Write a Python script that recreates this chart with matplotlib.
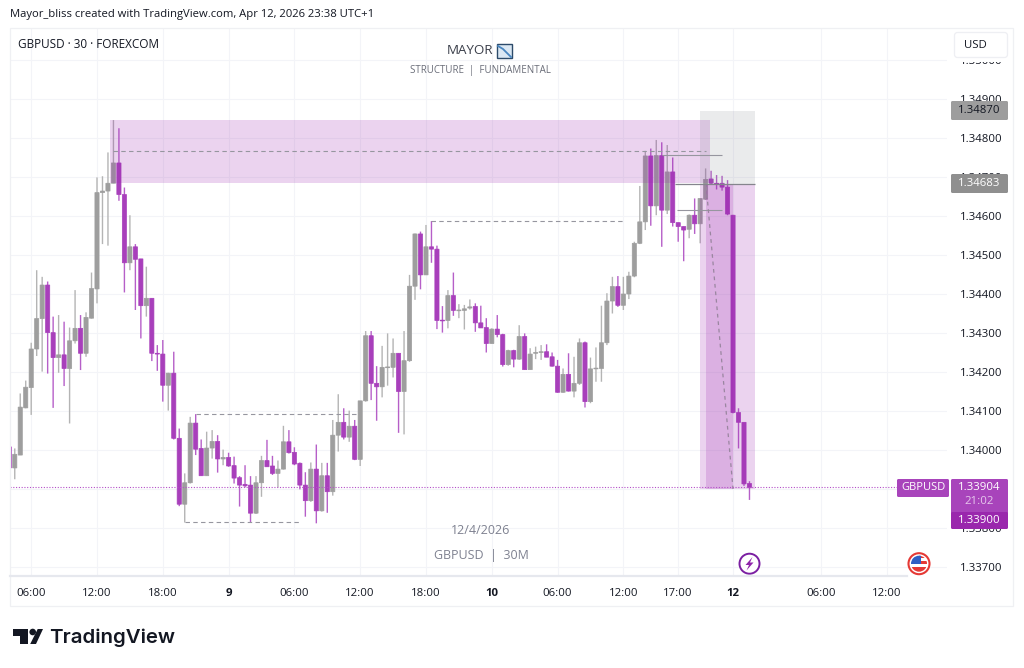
import numpy as np
import matplotlib
matplotlib.use("Agg")
import matplotlib.pyplot as plt
from matplotlib.patches import Rectangle, FancyBboxPatch, Circle, Polygon

plt.rcParams['font.family'] = ['Open Sans', 'DejaVu Sans']

opens = [1.34008,1.33954,1.33987,1.34108,1.34160,1.34259,1.34337,1.34423,1.34301,1.34237,
         1.34244,1.34209,1.34280,1.34312,1.34248,1.34338,1.34413,1.34660,1.34664,1.34684,
         1.34736,1.34655,1.34480,1.34521,1.34490,1.34370,1.34389,1.34248,1.34246,1.34166,
         1.34197,1.34030,1.33861,1.33916,1.34069,1.34004,1.33934,1.34005,1.34022,1.33977,
         1.33981,1.33960,1.33929,1.33912,1.33910,1.33838,1.33916,1.33973,1.33959,1.33940,
         1.33951,1.34021,1.33994,1.33966,1.33910,1.33870,1.33951,1.33844,1.33934,1.33893,
         1.34038,1.34071,1.34033,1.34061,1.33976,1.34126,1.34293,1.34171,1.34162,1.34211,
         1.34212,1.34248,1.34150,1.34229,1.34420,1.34554,1.34449,1.34521,1.34515,1.34333,
         1.34332,1.34396,1.34357,1.34358,1.34364,1.34368,1.34326,1.34314,1.34273,1.34310,
         1.34296,1.34219,1.34255,1.34233,1.34291,1.34206,1.34248,1.34250,1.34252,1.34239,
         1.34215,1.34148,1.34194,1.34151,1.34171,1.34275,1.34124,1.34208,1.34209,1.34275,
         1.34382,1.34419,1.34371,1.34400,1.34446,1.34530,1.34585,1.34754,1.34626,1.34755,
         1.34615,1.34713,1.34583,1.34573,1.34566,1.34602,1.34580,1.34643,1.34695,1.34684,
         1.34684,1.34674,1.34602,1.34096,1.34071,1.33914]
closes = [1.33954,1.33989,1.34110,1.34161,1.34259,1.34337,1.34423,1.34301,1.34237,1.34244,
          1.34209,1.34280,1.34312,1.34248,1.34340,1.34414,1.34660,1.34664,1.34684,1.34736,
          1.34655,1.34480,1.34521,1.34489,1.34370,1.34389,1.34248,1.34246,1.34166,1.34197,
          1.34030,1.33861,1.33916,1.34069,1.34002,1.33934,1.34005,1.34022,1.33977,1.33981,
          1.33959,1.33928,1.33910,1.33908,1.33838,1.33916,1.33973,1.33957,1.33940,1.33951,
          1.34021,1.33993,1.33964,1.33910,1.33870,1.33951,1.33844,1.33934,1.33893,1.34038,
          1.34071,1.34033,1.34061,1.33976,1.34126,1.34293,1.34171,1.34162,1.34212,1.34213,
          1.34248,1.34150,1.34229,1.34420,1.34554,1.34449,1.34521,1.34515,1.34332,1.34331,
          1.34396,1.34358,1.34359,1.34362,1.34367,1.34326,1.34313,1.34273,1.34310,1.34296,
          1.34219,1.34255,1.34233,1.34291,1.34206,1.34246,1.34250,1.34252,1.34238,1.34215,
          1.34148,1.34194,1.34151,1.34171,1.34275,1.34124,1.34208,1.34210,1.34275,1.34382,
          1.34419,1.34371,1.34400,1.34446,1.34530,1.34585,1.34754,1.34626,1.34755,1.34615,
          1.34713,1.34583,1.34573,1.34564,1.34602,1.34580,1.34645,1.34694,1.34684,1.34682,
          1.34674,1.34605,1.34096,1.34071,1.33913,1.33904]
highs = [1.34010,1.34004,1.34145,1.34178,1.34275,1.34461,1.34444,1.34432,1.34342,1.34346,
         1.34329,1.34314,1.34410,1.34346,1.34353,1.34455,1.34699,1.34702,1.34763,1.34846,
         1.34825,1.34673,1.34602,1.34528,1.34490,1.34470,1.34389,1.34269,1.34282,1.34198,
         1.34252,1.34055,1.33940,1.34085,1.34092,1.34027,1.34047,1.34051,1.34038,1.34001,
         1.33993,1.33983,1.33933,1.33961,1.33933,1.33933,1.33985,1.34026,1.33985,1.33973,
         1.34062,1.34051,1.34007,1.33968,1.33943,1.33968,1.34014,1.33967,1.33967,1.34077,
         1.34143,1.34107,1.34101,1.34077,1.34126,1.34305,1.34305,1.34215,1.34267,1.34299,
         1.34286,1.34248,1.34305,1.34449,1.34555,1.34560,1.34577,1.34587,1.34524,1.34369,
         1.34410,1.34455,1.34374,1.34372,1.34386,1.34376,1.34370,1.34338,1.34312,1.34346,
         1.34298,1.34257,1.34257,1.34320,1.34299,1.34261,1.34265,1.34269,1.34271,1.34250,
         1.34231,1.34209,1.34248,1.34239,1.34286,1.34278,1.34237,1.34263,1.34370,1.34402,
         1.34444,1.34446,1.34444,1.34457,1.34534,1.34677,1.34767,1.34773,1.34795,1.34789,
         1.34782,1.34750,1.34583,1.34573,1.34604,1.34645,1.34645,1.34722,1.34716,1.34705,
         1.34703,1.34692,1.34603,1.34107,1.34071,1.33920]
lows = [1.33954,1.33925,1.33987,1.34107,1.34090,1.34241,1.34201,1.34196,1.34108,1.34198,
        1.34164,1.34068,1.34273,1.34205,1.34239,1.34337,1.34376,1.34528,1.34524,1.34684,
        1.34639,1.34404,1.34461,1.34359,1.34286,1.34342,1.34228,1.34203,1.34124,1.34101,
        1.34027,1.33856,1.33814,1.33914,1.33987,1.33934,1.33934,1.33978,1.33942,1.33961,
        1.33957,1.33914,1.33855,1.33904,1.33814,1.33836,1.33880,1.33957,1.33936,1.33904,
        1.33950,1.33991,1.33961,1.33899,1.33829,1.33867,1.33812,1.33842,1.33839,1.33883,
        1.33996,1.34027,1.34021,1.33974,1.33959,1.34124,1.34128,1.34075,1.34135,1.34165,
        1.34186,1.34044,1.34040,1.34226,1.34385,1.34412,1.34449,1.34480,1.34310,1.34301,
        1.34312,1.34344,1.34338,1.34309,1.34360,1.34303,1.34313,1.34250,1.34273,1.34289,
        1.34214,1.34216,1.34212,1.34231,1.34206,1.34206,1.34233,1.34231,1.34238,1.34214,
        1.34147,1.34147,1.34150,1.34135,1.34167,1.34109,1.34120,1.34175,1.34175,1.34269,
        1.34350,1.34367,1.34359,1.34387,1.34443,1.34528,1.34564,1.34575,1.34602,1.34521,
        1.34605,1.34573,1.34534,1.34484,1.34543,1.34554,1.34530,1.34641,1.34682,1.34668,
        1.34665,1.34602,1.34094,1.34004,1.33908,1.33872]

time_ticks = [4,16,28,40,52,64,76,88,100,112,122,132,148,160]
time_labels = ['06:00','12:00','18:00','9','06:00','12:00','18:00','10','06:00','12:00','17:00','12','06:00','12:00']
bold_labels = ['9','10','12']
price_ticks = [1.33700,1.33800,1.33900,1.34000,1.34100,1.34200,1.34300,1.34400,1.34500,1.34600,1.34700,1.34800,1.34900,1.35000]

last_price = 1.33904
tp_price = 1.34870
entry_price = 1.34683
stop_price = 1.33900

supply_top = 1.34846
supply_bottom = 1.34685
liq_high = 1.34767
bos_mid = 1.34586
range_top = 1.34093
range_bottom = 1.33815

W, H = 1024, 668
PURPLE = '#a83fbb'
PURPLE_WICK = '#b65fc8'
GRAY = '#9e9e9e'
GRAY_WICK = '#b4b4b4'
GRID = '#f3f4f8'
TEXT = '#131722'
DASH = '#96969f'

# px to index / price, only used to line the axes up with the screenshot
def idx_at(px):
    return 16 + (px - 97) / 5.483

def price_at(py):
    return 1.349 - (py - 99) / 39000

fig = plt.figure(figsize=(W/100, H/100), dpi=100, facecolor='white')
ax = fig.add_axes([10/W, 1-576/H, (947-10)/W, (576-28)/H])
ax.set_xlim(idx_at(10), idx_at(947))
ax.set_ylim(price_at(576), price_at(28))
for s in ax.spines.values():
    s.set_visible(False)

ax.set_xticks(time_ticks)
ax.set_xticklabels(time_labels, fontsize=8.2, color=TEXT)
for t in ax.get_xticklabels():
    if t.get_text() in bold_labels:
        t.set_fontweight('bold')
ax.yaxis.tick_right()
ax.set_yticks(price_ticks)
ax.set_yticklabels(['%.5f' % p for p in price_ticks], fontsize=8.2, color=TEXT)
ax.tick_params(axis='x', length=0, pad=9)
ax.tick_params(axis='y', length=0, pad=9.5)
ax.grid(True, color=GRID, lw=0.8)
ax.set_axisbelow(True)

# candles, no snapping or the bodies come out in uneven widths
x = np.arange(len(opens))
o = np.array(opens)
c = np.array(closes)
up = c >= o
colors = [GRAY if u else PURPLE for u in up]
wick_colors = [GRAY_WICK if u else PURPLE_WICK for u in up]
wicks = ax.vlines(x, lows, highs, colors=wick_colors, lw=1.0, zorder=2)
wicks.set_snap(False)
bodies = ax.bar(x, np.abs(c-o), bottom=np.minimum(o, c), width=0.76, color=colors, edgecolor=colors, lw=0.5, zorder=3)
for b in bodies:
    b.set_snap(False)

# zones
ax.add_patch(Rectangle((idx_at(110), supply_bottom), idx_at(710)-idx_at(110), supply_top-supply_bottom,
                       fc='#9c27b0', alpha=0.2, lw=0, zorder=4))
ax.add_patch(Rectangle((126, entry_price), 10, tp_price-entry_price, fc='#787b86', alpha=0.15, lw=0, zorder=4))
ax.add_patch(Rectangle((126, stop_price), 10, entry_price-stop_price, fc='#9c27b0', alpha=0.2, lw=0, zorder=4))
ax.add_patch(Rectangle((127, stop_price), 5, entry_price-stop_price, fc='#9c27b0', alpha=0.2, lw=0, zorder=4))

# levels
ax.hlines(liq_high, 19, 127, colors=DASH, linestyles=(0, (4, 3)), lw=0.8, zorder=5)
ax.hlines(bos_mid, 77, 112, colors=DASH, linestyles=(0, (4, 3)), lw=0.8, zorder=5)
ax.hlines(range_top, 34, 63.6, colors=DASH, linestyles=(0, (4, 3)), lw=0.8, zorder=5)
ax.hlines(range_bottom, 32, 53.2, colors=DASH, linestyles=(0, (4, 3)), lw=0.8, zorder=5)
ax.hlines(1.34756, 119, 130, colors='#96969f', lw=0.8, zorder=5)
ax.hlines(1.34615, 121.8, 130, colors='#96969f', lw=0.8, zorder=5)
ax.hlines(entry_price, 121.4, 136, colors='#85858d', lw=0.9, zorder=5)
ax.plot([127, 132], [1.34694, stop_price], color='#9a86a0', ls=(0, (3, 3)), lw=0.9, zorder=5)
ax.axhline(last_price, color='#b44fc8', ls=(0, (1, 1.5)), lw=0.8, zorder=5)

# everything else on a pixel overlay
ov = fig.add_axes([0, 0, 1, 1], facecolor='none')
ov.set_xlim(0, W)
ov.set_ylim(H, 0)
ov.axis('off')

ov.add_patch(Rectangle((10, 28), 1003, 578, fc='none', ec='#eff0f3', lw=0.9))
ov.plot([10, 907], [576, 576], color='#e6e8ee', lw=1.6)

ov.text(10, 15, 'Mayor_bliss created with TradingView.com, Apr 12, 2026 23:38 UTC+1', fontsize=8.1, color=TEXT, va='center')
ov.text(18, 44, 'GBPUSD · 30 · FOREXCOM', fontsize=8.5, color=TEXT, va='center')
ov.text(447, 51, 'MAYOR', fontsize=9.6, color='#3b3f4a', va='center')
ov.text(480.5, 71, 'STRUCTURE  |  FUNDAMENTAL', fontsize=7, color='#6a6d78', va='center', ha='center')
ov.text(481, 530, '12/4/2026', fontsize=9, color='#7e8190', va='center', ha='center')
ov.text(481, 555, 'GBPUSD  |  30M', fontsize=9, color='#7e8190', va='center', ha='center')

# small MAYOR icon
ov.add_patch(Rectangle((497, 44), 15, 14, fc='#dbe8f4', ec='#2c4a6a', lw=1))
ov.plot([498, 503, 507, 511], [46, 49, 53, 57], color='#4a86c0', lw=1.3)

# USD button, its white margin hides the top of the 1.35000 label
ov.add_patch(Rectangle((952, 30), 58, 32, fc='white', ec='none', zorder=5))
ov.add_patch(FancyBboxPatch((956, 34), 50, 22, boxstyle='round,pad=1.5,rounding_size=3', fc='white', ec='#eeeff3', lw=0.9, zorder=6))
ov.text(964, 45, 'USD', fontsize=8.2, color=TEXT, va='center', zorder=7)

# price labels
def price_tag(px0, py0, px1, py1, color, label, tcolor, fs=8.2):
    ov.add_patch(FancyBboxPatch((px0+1, py0+1), px1-px0-2, py1-py0-2, boxstyle='round,pad=1,rounding_size=1.5', fc=color, ec='none', zorder=6))
    ov.text((px0+px1)/2, (py0+py1)/2, label, fontsize=fs, color=tcolor, va='center', ha='center', zorder=7)

price_tag(951, 101, 1008, 120, '#9d9d9d', '%.5f' % tp_price, TEXT)
price_tag(951, 174, 1008, 193, '#8f8f8f', '%.5f' % entry_price, 'white')
price_tag(897, 479, 949, 497, '#a844bb', 'GBPUSD', 'white', fs=8)
price_tag(951, 479, 1008, 514, '#a844bb', '%.5f' % last_price, 'white')
ov.texts[-1].set_position((979.5, 488))
ov.text(979.5, 502, '21:02', fontsize=8.2, color='#e6c8ec', va='center', ha='center', zorder=7)
price_tag(951, 512, 1008, 529, '#9a27ad', '%.5f' % stop_price, 'white')

# lightning badge
ov.add_patch(Circle((749.5, 563.7), 10, fc='white', ec='#7b1fa2', lw=1.4))
ov.add_patch(Polygon([[752.5, 557], [745.5, 565], [749, 565], [746.5, 570.5], [753.5, 562.5], [750, 562.5]], fc='#8e24aa', ec='none'))

# US flag badge, stripes clipped to an inner disc
ov.add_patch(Circle((919, 563.7), 10.5, fc='white', ec='#e53935', lw=1.5))
disc = Circle((919, 563.7), 8, fc='white', ec='none')
ov.add_patch(disc)
flag_parts = [Rectangle((919, 555), 9, 3, fc='#e53935', ec='none'),
              Rectangle((919, 561), 9, 3, fc='#e53935', ec='none'),
              Rectangle((910, 566.5), 18, 6, fc='#e53935', ec='none'),
              Rectangle((910, 555), 10.5, 9, fc='#2f5fc4', ec='none')]
for part in flag_parts:
    ov.add_patch(part)
    part.set_clip_path(disc)

# TradingView logo
ov.add_patch(Polygon([[12.7, 629], [27.7, 629], [27.7, 644], [20, 644], [20, 636], [12.7, 636]], fc=TEXT, ec='none'))
ov.add_patch(Circle((32.7, 632), 3.3, fc=TEXT, ec='none'))
ov.add_patch(Polygon([[37.7, 629], [43, 629], [36, 644], [30.2, 644]], fc=TEXT, ec='none'))
ov.text(49.5, 638, 'TradingView', fontsize=14.7, fontweight='semibold', family=['Inter', 'DejaVu Sans'], color=TEXT, va='center')

fig.savefig('out.png', dpi=100, facecolor='white')
